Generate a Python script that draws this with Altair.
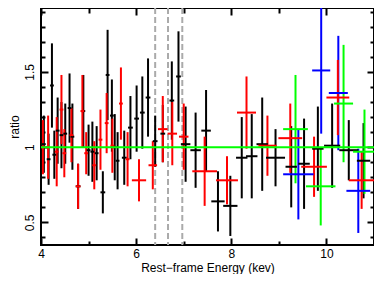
import altair as alt
import pandas as pd

# ---- data ----
blk_e = [4.06, 4.16, 4.23, 4.28, 4.35, 4.43, 4.51, 4.60, 4.66, 4.78, 4.89, 5.00, 5.08, 5.17, 5.30,
         5.40, 5.49, 5.55, 5.61, 5.75, 5.88, 6.01, 6.13, 6.25, 6.40, 6.56, 6.75, 6.89, 7.04, 7.25,
         7.47, 7.72, 7.98, 8.22, 8.43, 8.65, 8.93, 9.26, 9.53, 9.82, 10.12, 10.47, 10.78]
blk_r = [1.02, 0.92, 1.41, 0.95, 1.11, 1.08, 1.09, 1.26, 1.07, 0.74, 1.24, 0.98, 0.97, 0.96, 0.70,
         1.48, 1.21, 1.00, 0.91, 0.93, 1.13, 1.19, 1.23, 1.33, 1.04, 1.09, 1.31, 1.47, 1.02, 0.98,
         1.11, 0.64, 0.61, 0.93, 0.94, 1.02, 0.93, 0.87, 0.89, 0.99, 1.01, 0.98, 0.91]
blk_ey = [0.19, 0.17, 0.28, 0.16, 0.22, 0.22, 0.20, 0.23, 0.22, 0.15, 0.24, 0.17, 0.20, 0.18, 0.14,
          0.30, 0.24, 0.22, 0.19, 0.18, 0.21, 0.22, 0.24, 0.26, 0.17, 0.19, 0.26, 0.30, 0.25, 0.25,
          0.27, 0.20, 0.20, 0.27, 0.28, 0.31, 0.19, 0.27, 0.30, 0.28, 0.28, 0.20, 0.25]
blk_ex = [0.04, 0.04, 0.04, 0.04, 0.04, 0.04, 0.04, 0.04, 0.04, 0.05, 0.04, 0.04, 0.04, 0.04, 0.05,
          0.04, 0.04, 0.04, 0.04, 0.05, 0.05, 0.05, 0.05, 0.05, 0.05, 0.05, 0.05, 0.05, 0.10, 0.11,
          0.10, 0.14, 0.15, 0.12, 0.12, 0.12, 0.20, 0.12, 0.12, 0.12, 0.17, 0.20, 0.14]

red_e = [4.04, 4.15, 4.33, 4.43, 4.49, 4.64, 4.78, 4.87, 4.95, 5.12, 5.25, 5.38, 5.50, 5.68, 5.82,
         6.06, 6.35, 6.56, 6.76, 7.00, 7.44, 7.91, 8.32, 8.76, 9.24, 9.74, 10.24, 10.74]
red_r = [1.00, 1.00, 0.97, 1.25, 0.96, 1.08, 0.74, 1.24, 0.96, 0.88, 1.05, 1.16, 1.01, 1.29, 0.92,
         0.78, 0.88, 1.12, 1.09, 1.07, 0.84, 0.78, 1.23, 1.01, 1.06, 0.87, 1.33, 0.78]
red_ey = [0.18, 0.21, 0.23, 0.23, 0.16, 0.18, 0.15, 0.24, 0.14, 0.16, 0.20, 0.20, 0.18, 0.24, 0.18,
          0.14, 0.16, 0.22, 0.21, 0.22, 0.23, 0.16, 0.24, 0.20, 0.23, 0.20, 0.25, 0.19]
red_ex = [0.04, 0.04, 0.04, 0.04, 0.04, 0.04, 0.05, 0.04, 0.04, 0.04, 0.04, 0.04, 0.04, 0.04, 0.04,
          0.15, 0.09, 0.10, 0.10, 0.10, 0.26, 0.23, 0.20, 0.19, 0.25, 0.27, 0.24, 0.27]

grn_e = [9.35, 9.88, 10.36, 10.80]
grn_r = [1.12, 0.74, 1.29, 0.97]
grn_ey = [0.36, 0.26, 0.39, 0.28]
grn_ex = [0.26, 0.31, 0.20, 0.24]

blu_e = [9.41, 9.89, 10.25, 10.67]
blu_r = [0.82, 1.51, 1.36, 0.71]
blu_ey = [0.30, 0.42, 0.38, 0.28]
blu_ex = [0.32, 0.19, 0.20, 0.25]

line_energies = [6.4, 6.67, 6.97]
unity = [1.0]

x_major = [4, 6, 8, 10]
x_minor = [5, 7, 9, 11]
y_major = [0.5, 1.0, 1.5]
y_minor = [0.4, 0.6, 0.7, 0.8, 0.9, 1.1, 1.2, 1.3, 1.4, 1.6, 1.7, 1.8, 1.9]
x_domain = [4, 11]
y_domain = [0.35, 1.925]

series_names = ["black", "blue", "green", "red"]
series_colors = ["#000000", "#0000ff", "#00ff00", "#ff0000"]

# ---- build table ----
frames = []
for name, e, r, ey, ex in [
    ("black", blk_e, blk_r, blk_ey, blk_ex),
    ("blue", blu_e, blu_r, blu_ey, blu_ex),
    ("green", grn_e, grn_r, grn_ey, grn_ex),
    ("red", red_e, red_r, red_ey, red_ex),
]:
    d = pd.DataFrame({"e": e, "r": r, "ey": ey, "ex": ex})
    d["series"] = name
    frames.append(d)
df = pd.concat(frames, ignore_index=True)
df["order"] = df["series"].map({n: i for i, n in enumerate(series_names)})
df["rlo"] = df["r"] - df["ey"]
df["rhi"] = df["r"] + df["ey"]
df["elo"] = df["e"] - df["ex"]
df["ehi"] = df["e"] + df["ex"]

xs = alt.Scale(domain=x_domain, nice=False, zero=False)
ys = alt.Scale(domain=y_domain, nice=False, zero=False)
cs = alt.Scale(domain=series_names, range=series_colors)

FONT = "Liberation Sans"

common = dict(grid=False, domain=False, tickColor="black", tickWidth=2,
              labelColor="black", titleColor="black", labelFont=FONT, titleFont=FONT)

axis_df = pd.DataFrame({"x": [4.0], "y": [1.0]})


def axis_layer(xaxis, yaxis):
    return alt.Chart(axis_df).mark_point(opacity=0).encode(
        x=alt.X("x:Q", scale=xs, axis=xaxis),
        y=alt.Y("y:Q", scale=ys, axis=yaxis),
    )


ax_main = axis_layer(
    alt.Axis(orient="bottom", values=x_major, tickSize=7, offset=-7, labelFontSize=12,
             labelPadding=3, labelFlush=False, title="Rest\u2212frame Energy (kev)",
             titleFontSize=12, titleFontWeight="normal", titlePadding=3, **common),
    alt.Axis(orient="left", values=y_major, tickSize=7, offset=-7, labelFontSize=12,
             labelAngle=270, labelPadding=5, labelFlush=False, format=".1~f", title="ratio",
             titleFontSize=12, titleFontWeight="normal", titlePadding=2, **common),
)
ax_minor = axis_layer(
    alt.Axis(orient="bottom", values=x_minor, tickSize=4, offset=-4, labels=False, title=None, **common),
    alt.Axis(orient="left", values=y_minor, tickSize=4, offset=-4, labels=False, title=None, **common),
)
ax_top = axis_layer(
    alt.Axis(orient="top", values=x_major, tickSize=7, offset=-7, labels=False, title=None, **common),
    alt.Axis(orient="right", values=y_major, tickSize=7, offset=-7, labels=False, title=None, **common),
)
ax_top_minor = axis_layer(
    alt.Axis(orient="top", values=x_minor, tickSize=5, offset=-5, labels=False, title=None, **common),
    alt.Axis(orient="right", values=y_minor, tickSize=4, offset=-4, labels=False, title=None, **common),
)

dashes = alt.Chart(pd.DataFrame({"x": line_energies})).mark_rule(
    color="#aaaaaa", strokeWidth=2, strokeDash=[6, 3]
).encode(x=alt.X("x:Q", scale=xs, axis=None))

vbars = alt.Chart(df).mark_rule(strokeWidth=2, clip=True).encode(
    x=alt.X("e:Q", scale=xs, axis=None),
    y=alt.Y("rlo:Q", scale=ys, axis=None),
    y2="rhi:Q",
    color=alt.Color("series:N", scale=cs, legend=None),
    order="order:Q",
)
hbars = alt.Chart(df).mark_rule(strokeWidth=2, clip=True).encode(
    x=alt.X("elo:Q", scale=xs, axis=None),
    x2="ehi:Q",
    y=alt.Y("r:Q", scale=ys, axis=None),
    color=alt.Color("series:N", scale=cs, legend=None),
    order="order:Q",
)

unity_line = alt.Chart(pd.DataFrame({"y": unity})).mark_rule(
    color="#00ff00", strokeWidth=2
).encode(y=alt.Y("y:Q", scale=ys, axis=None))

chart = alt.layer(
    ax_main, ax_minor, ax_top, ax_top_minor, dashes, vbars, hbars, unity_line
).resolve_axis(x="independent", y="independent").properties(
    width=333, height=237,
    padding={"left": 33, "top": 0, "right": 0, "bottom": 29},
    autosize=alt.AutoSizeParams(type="none"),
).configure_view(stroke="black", strokeWidth=2)

chart.save("out.html", embed_options={"renderer": "svg", "actions": False})
